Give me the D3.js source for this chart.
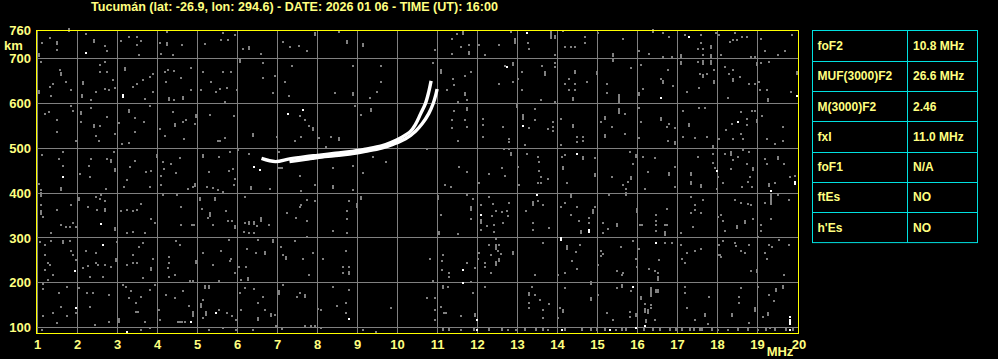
<!DOCTYPE html>
<html>
<head>
<meta charset="utf-8">
<script src="https://cdn.jsdelivr.net/npm/d3@7/dist/d3.min.js"></script>
<style>
body{margin:0;background:#000;}
svg{display:block;font-family:"Liberation Sans",Arial,sans-serif;font-weight:bold;}
</style>
</head>
<body>
<div id="chart"></div>
<script>
// ionogram title and axes
const title = "Tucumán (lat: -26.9, lon: 294.6) - DATE: 2026 01 06 - TIME (UT): 16:00";
const freqTicks = [1,2,3,4,5,6,7,8,9,10,11,12,13,14,15,16,17,18,19,20];
const heightTicks = [100,200,300,400,500,600,700];
const topHeight = 760;

// scaled parameters table
const paramNames = ["foF2","MUF(3000)F2","M(3000)F2","fxI","foF1","ftEs","h'Es"];
const paramValues = ["10.8 MHz","26.6 MHz","2.46","11.0 MHz","N/A","NO","NO"];

// F2 trace, [MHz, km]
const oTrace = [[6.6,477],[6.95,470],[7.3,476],[7.7,481],[8.0,484],[8.4,488],[8.8,492],[9.2,498],[9.6,505],[9.85,513],[10.1,524],[10.33,538],[10.45,553],[10.58,577],[10.7,600],[10.78,625],[10.84,650]];
const xTrace = [[7.3,470],[7.7,475],[8.0,479],[8.4,483],[8.8,487],[9.2,493],[9.6,500],[9.9,509],[10.2,521],[10.45,538],[10.62,555],[10.78,577],[10.89,599],[10.96,620],[10.99,632]];

// echoes / noise speckles, [MHz, km, streak length km]
const noiseGray = [
[1.78,760,10],[2.22,754],[1.12,735],[1.3,745],[1.49,732,8],[1.49,719],[2.4,737,8],[2.69,728],[2.73,717],[3.09,739],[3.28,748],[3.49,747],[3.48,730],[3.59,740],[3.53,707],[4.05,734],[4.23,760],[4.23,730,8],[4.38,707],[4.08,711],[4.61,730],[5.19,732],[5.59,741],[5.76,741],[5.63,756],[5.94,752],[6.13,722],[6.28,722,8],[6.59,711],[7.14,737],[7.3,726],[7.53,728],[7.73,717],[7.93,752,8],[8.53,760],[8.74,735,10],[9.13,728,8],[1.03,704,10],
[1.09,693],[1.55,674],[1.59,663,8],[1.72,648],[1.38,644],[1.3,637],[1.84,629],[1.03,623,8],[1.34,616],[2.13,643,8],[2.12,614,8],[2.34,607],[2.45,625],[2.55,685],[2.55,670],[2.68,693],[2.73,670],[2.88,651],[2.68,633],[2.78,629],[2.94,635],[3.19,674,8],[3.38,637],[3.49,644],[3.63,653],[3.8,659],[3.88,666],[3.68,610],[3.88,625],[4.19,670],[4.26,675],[4.41,672],[4.59,657],[4.84,679],[4.2,648],[4.3,608,8],[4.41,607],[4.63,610,8],[4.84,629],[5.13,670],[5.34,648],[5.63,670],[5.84,670],[5.47,625],[5.57,633],[5.74,634],[5.98,629],[5.09,629],[6.07,693,8],[6.63,691],[6.63,657],[6.94,661],[6.88,622],[7.19,648],[7.28,616],[7.35,684],[8.44,622],[8.88,684],[8.88,618,8],[9.3,612],[9.48,625],[9.59,684],[9.59,648],[5.69,603],
[1.28,581],[1.19,577],[1.48,562],[1.48,536],[1.83,593],[1.88,584],[2.09,577,8],[2.09,558],[2.34,590],[2.4,547,10],[2.55,549],[2.45,528],[2.53,517],[1.97,517],[2.73,569],[2.94,532],[3.03,556],[3.28,581,10],[3.44,567],[3.65,558],[3.12,510],[3.28,511],[3.44,536],[3.8,595],[4.05,543],[4.18,528],[4.38,581],[4.44,551,8],[4.63,558],[4.72,563],[4.97,569,8],[4.67,521],[4.93,555],[5.3,575],[5.5,517],[5.56,517],[5.69,522],[5.9,571],[6.38,528,8],[6.98,526],[7.55,571],[7.68,562],[7.78,549],[7.88,542,8],[7.59,525],[7.44,517],[8.03,522],[8.34,526],[8.53,519,8],[8.94,593],[9.09,575],[9.34,583,8],[8.22,502],
[1.12,484],[1.53,476],[1.63,491],[1.63,461],[2.05,443],[2.3,435],[2.28,461],[2.34,476],[2.74,476],[2.84,469,8],[2.94,450,8],[2.9,491],[3.3,458],[3.23,428],[3.44,472],[3.72,446],[3.84,450],[3.99,480,8],[4.13,469],[4.16,454],[4.34,465],[4.55,478],[4.45,444],[4.09,437],[5.13,480,10],[5.28,446],[5.53,481],[5.8,491],[5.78,449],[5.88,454],[5.94,431],[6.0,495],[6.3,487],[7.0,456],[7.05,456],[7.1,456],[7.03,491],[7.55,437],[7.88,476],[8.38,456],[8.88,461],[9.13,444],[9.38,480],[9.72,469],
[10.93,719],[11.35,711],[11.35,743],[11.48,754],[11.64,754,10],[11.58,726],[11.79,730],[11.79,711,8],[12.03,730],[12.18,707],[12.54,730],[12.83,760],[12.93,737,14],[13.25,734],[13.29,721],[13.83,752,20],[13.93,747,8],[13.93,707],[14.14,761],[14.18,726],[14.33,726],[14.43,726],[14.68,748],[14.68,734],[15.02,756],[15.39,707,8],[15.64,743],[16.04,717],[16.29,711],[16.39,760,8],[16.64,756],[16.64,704],[16.78,748],[16.87,704],[17.08,704,8],[17.18,752],[17.58,752],[17.58,734],[17.5,722],[17.64,722],[17.64,707],[17.83,724,8],[17.83,704,8],[17.96,756],[18.04,752],[18.08,707],[18.32,736],[18.43,756],[18.39,741],[18.48,741],[18.6,748],[18.73,748],[18.83,704],[18.93,704],[19.08,743],[19.18,717],[19.52,707],[19.68,717],[19.85,752],
[10.89,689],[11.08,668,12],[11.39,655],[11.42,640],[11.23,629],[11.68,660],[11.83,670],[11.68,618,8],[11.75,607],[11.52,603],[12.53,644],[12.68,683],[12.89,685,8],[12.89,648],[13.02,655],[13.1,670],[13.1,629],[13.6,683],[13.68,663,12],[13.58,607],[13.93,689],[13.93,680],[13.93,603],[14.18,644],[14.28,655],[14.43,668,10],[14.29,629],[14.43,629],[14.43,644],[14.39,607,10],[14.73,648],[14.98,666,8],[15.24,644],[15.24,622],[15.39,696,8],[15.53,608,22],[15.83,678],[16.03,618,10],[16.08,685],[16.14,633],[16.58,655],[16.64,645,8],[16.76,674],[16.89,638],[17.08,689,8],[17.23,625],[17.5,693],[17.64,689,12],[17.56,666],[17.64,659,8],[17.73,666],[17.83,689,12],[17.92,674],[17.92,645,10],[17.54,634],[18.18,680],[18.28,666],[18.39,674],[18.39,650,10],[18.27,612],[18.56,659],[18.79,644],[18.93,644],[18.98,685,8],[19.03,648],[19.06,629],[19.08,689],[19.25,629],[19.28,693],[19.27,605,10],[19.83,625],[19.98,666,10],
[11.42,584],[11.35,563],[11.35,545],[11.68,563],[11.75,584,10],[11.75,547],[11.5,517],[12.14,566],[12.14,551],[12.14,525],[12.64,547],[12.79,521],[12.79,513],[12.67,499],[12.99,592,12],[13.14,568,14],[13.28,545],[13.18,506],[13.43,588],[13.43,563],[13.75,543],[13.89,558],[13.89,547],[13.89,538],[14.08,566],[14.08,508],[14.39,547,8],[14.49,526],[14.49,513],[14.64,526],[14.64,517],[15.08,558],[15.18,566,8],[15.18,525,8],[15.35,548],[15.54,581,14],[15.68,577],[15.68,532],[16.03,590],[16.08,558],[16.03,523],[16.58,563,8],[16.73,548],[16.79,553],[16.94,545],[16.75,517],[16.94,510,8],[17.28,551,8],[17.14,584],[17.14,526],[17.43,523],[17.54,590],[17.68,590],[17.73,526],[18.03,521],[18.22,540],[18.35,553],[18.39,521],[18.58,580],[18.73,566],[18.73,551],[18.58,532],[18.64,521],[18.85,584],[18.93,584],[18.98,558,10],[19.1,571],[19.25,521],[19.43,510],[19.64,517],[19.64,548],
[10.73,499],[11.54,459],[11.75,446],[12.28,443],[12.6,455],[12.68,437],[12.78,499],[12.83,484,10],[13.02,459],[13.24,486],[13.52,480],[13.53,469],[13.53,450],[13.58,435],[13.77,431],[14.1,480],[14.14,454,8],[14.18,484],[14.64,476,10],[14.93,478],[14.93,439,8],[15.35,435],[15.8,491],[15.83,431,8],[15.88,465],[15.97,480,10],[16.14,481],[16.27,446],[16.43,478],[16.78,439,10],[16.93,459],[17.33,439,10],[17.5,480],[17.89,499,10],[17.89,488],[17.89,467],[17.93,455],[18.02,435],[18.18,488],[18.33,486,12],[18.39,474],[18.52,480],[18.33,454],[18.64,495],[18.79,491],[18.73,465],[18.88,450,10],[18.81,435],[19.18,476],[19.25,465],[19.52,476,10],[19.67,465],[19.81,435],[19.93,439],
[1.09,406],[1.09,393,12],[1.09,373],[1.09,354,12],[1.13,347],[1.59,407,8],[1.48,363],[1.84,373],[2.03,384,8],[2.26,369],[2.45,391],[2.55,387],[2.59,395],[2.68,382],[2.69,360,10],[2.49,363],[1.59,328],[1.7,324],[1.8,324],[1.88,332],[1.95,324],[1.34,311],[2.94,317,10],[2.7,410],[3.09,360],[3.24,363],[3.38,360],[3.49,363],[3.59,376],[3.84,341],[3.94,333],[3.24,311],[3.38,313],[3.69,311],[3.16,413],[3.8,413],[4.13,395],[4.48,395],[4.59,369],[4.59,328],[4.86,328],[4.92,328],[4.09,417],[4.76,410],[4.88,413],[4.94,415,8],[5.05,384,10],[5.11,365],[5.3,350,12],[5.26,345],[5.38,328],[5.44,384,8],[5.7,360],[5.76,338],[5.86,338],[5.94,321,10],[5.24,413],[5.38,412],[5.51,406],[5.63,402],[5.91,417],[6.19,391],[6.18,332],[6.3,330,10],[6.4,330,10],[6.48,326],[6.59,339,12],[6.78,328],[6.15,313],[6.3,311],[6.4,311],[6.34,410,8],[6.8,410],[7.23,356],[7.45,345],[7.55,369],[7.59,373],[7.73,385],[7.73,338],[7.93,382],[7.93,417],[7.59,404],[8.38,410,10],[8.38,316],[8.73,360],[8.73,341],[8.78,382],[8.73,311],[8.88,407],[8.98,369,12],[9.09,387,10],[7.73,302],
[1.05,291],[1.34,293],[1.63,287,10],[1.8,293],[1.18,284],[1.2,261],[1.26,244],[1.3,239],[1.18,228],[1.38,217],[1.26,207],[1.84,271],[1.88,261],[1.95,250],[2.2,271],[2.47,267],[2.13,232],[2.26,237],[2.45,244],[2.5,239],[2.68,239],[2.84,234],[2.3,213],[2.63,213],[2.97,247,10],[2.98,291],[3.23,239],[3.38,261],[3.38,243],[3.49,244],[3.53,280],[3.63,289],[3.88,253],[3.84,228,10],[3.63,210],[4.28,258],[4.28,244],[4.28,213],[4.26,232],[4.43,217],[4.45,293],[4.55,284],[4.8,204],[4.88,204],[4.95,243,10],[5.13,267],[5.38,239],[5.53,204],[5.59,271],[5.8,249],[5.84,253],[5.94,222],[5.78,296],[6.03,234],[6.09,207],[6.2,234],[6.23,276],[6.26,206,10],[6.45,267],[6.51,296],[6.69,264,10],[6.88,291,10],[7.09,280],[7.13,261],[7.2,253,10],[7.44,293],[7.63,253],[7.78,217],[7.88,267],[8.13,253],[8.7,271],[8.63,236],[8.78,236],[8.63,222],[8.78,219,10],
[1.13,198],[1.13,185],[1.53,178],[1.74,191],[1.59,145],[1.95,132],[1.38,132],[1.13,126],[1.48,110],[1.74,126],[2.03,187],[2.23,178],[2.38,178],[2.78,172],[2.3,145],[2.43,106],[2.78,113],[3.03,113,12],[3.13,195],[3.22,190],[3.34,182],[3.28,165],[3.59,169],[3.45,154],[3.45,135],[3.5,135],[3.8,184],[3.93,195],[3.68,113],[4.03,139],[4.2,172],[4.05,117],[4.43,165],[4.63,182],[4.78,148],[4.88,128,14],[4.5,113],[4.56,113],[4.62,113],[4.68,113],[5.18,187,10],[5.28,187,10],[5.13,161],[5.09,146,12],[5.22,128,12],[5.13,121],[5.53,139],[5.73,133],[5.86,126],[5.63,98],[5.95,117],[6.05,176],[6.18,187],[6.4,185],[6.63,169],[6.51,154],[6.09,139],[6.51,117,10],[6.69,139],[6.84,124,10],[6.93,128],[6.95,104],[7.03,176,12],[7.13,195],[7.48,169],[7.68,169,8],[7.55,178],[8.01,141],[8.09,139],[8.38,191],[8.49,148],[8.78,184],[8.7,154],[8.7,132],[9.84,144],
[1.03,420],[1.12,95],[3.59,95],[3.8,98],[5.28,95],[5.95,95],[6.38,95],[7.1,96],[7.68,104],[7.84,104],[7.93,104],[8.09,98],[9.13,95],[9.45,91],
[11.18,417],[11.33,413],[12.03,422],[13.03,417],[13.5,422],[13.58,422],[14.24,422],[15.64,417],[15.75,424],[16.18,410],[16.93,413],[17.33,421,8],[17.58,413,8],[17.98,410],[18.13,422],[18.6,413],[18.77,424],[18.85,413],[19.28,415,10],[19.43,422],
[11.02,387,12],[11.08,350],[11.03,310,8],[11.5,308],[11.75,395],[11.89,387],[11.83,363,12],[11.83,343],[12.08,373],[12.08,333,12],[12.08,318],[12.28,391],[12.39,375],[12.45,360],[12.37,348],[12.42,328],[12.23,326],[12.42,313],[12.6,358],[12.73,360],[12.75,348],[12.78,378],[12.64,333],[13.2,360],[13.39,373,12],[13.39,332],[13.39,317],[13.5,382],[13.64,373],[13.78,321],[14.08,369],[14.18,378],[14.33,391,12],[14.33,350],[14.5,369],[14.54,338],[14.58,311,10],[14.79,345],[14.79,333],[14.89,356,12],[14.93,369],[15.14,333],[15.14,311],[15.25,319],[15.28,395],[15.49,326,10],[15.72,395,10],[15.72,410],[15.98,358,12],[16.05,328],[16.1,328],[16.47,350],[16.47,338],[16.47,328],[16.47,315],[16.68,308,12],[16.68,328],[16.74,328],[16.73,365],[17.08,311],[17.33,391],[17.43,373],[17.43,363],[17.33,356],[17.58,356],[17.39,324],[17.64,384],[18.08,350],[18.02,347],[18.13,338],[18.18,315],[18.43,385],[18.58,378],[18.68,333,10],[18.48,322,10],[18.75,376],[18.83,373],[18.89,343],[19.08,328],[19.08,315],[19.18,378],[19.33,384,24],[19.33,343],[19.52,395],[19.78,385],
[11.14,261],[11.1,248],[11.1,228],[11.28,221],[11.28,213],[10.81,252],[10.89,204],[11.75,244],[11.83,202],[11.93,232],[12.03,267],[12.0,252],[12.18,244],[12.18,234],[12.28,284],[12.33,261],[12.33,221],[12.45,276,14],[12.45,239,12],[12.52,271],[12.53,284],[12.58,264],[12.53,247,10],[12.45,298],[12.89,264,10],[13.43,217],[13.64,289],[14.23,276,12],[14.37,249],[14.46,269],[14.56,284],[14.18,222],[14.5,230],[14.0,217],[15.08,271],[15.08,259],[15.14,264],[15.02,239],[15.49,227],[15.6,217],[15.64,222],[15.58,280],[15.89,293],[15.95,252],[16.03,274],[15.98,234],[16.29,230],[16.43,227],[16.5,222],[16.53,250],[16.5,206,12],[16.68,289],[16.87,289],[17.1,252],[17.18,244],[17.08,284],[17.23,267],[17.43,271],[17.58,274],[18.0,261],[18.05,261],[18.08,258],[18.13,293],[18.04,284],[18.43,289],[18.45,282],[18.58,271],[18.68,267],[18.79,284],[18.83,227],[18.98,224,10],[19.02,301],[19.23,252],[19.18,267],[19.28,284],[19.37,280],[19.53,296],[19.78,284],[19.67,217],
[10.73,165],[10.93,165],[10.93,139],[10.93,117],[11.08,145],[11.14,187,10],[11.25,191],[11.15,132],[11.2,132],[11.58,126],[11.89,178],[11.93,126,10],[12.18,191],[13.35,191],[13.28,172,10],[13.43,172],[13.28,154],[13.28,143],[13.56,161],[13.64,139],[13.64,121],[13.78,152],[14.06,143],[14.14,133,10],[14.02,121],[14.18,187],[14.83,198,8],[14.83,165],[14.83,161],[15.02,172],[15.23,133],[15.39,117],[15.49,187],[15.6,190,10],[15.8,135],[15.8,123],[15.85,182],[15.95,124,10],[16.08,169],[16.08,163],[16.18,152],[16.18,135,12],[16.25,132,12],[16.33,178,22],[16.33,150],[16.33,143],[16.46,180,8],[16.5,180,8],[16.43,117],[16.22,111,10],[17.18,191],[17.18,178],[17.24,143],[17.43,117],[17.68,124,10],[17.78,169],[17.77,108],[18.35,124,10],[18.53,169],[18.53,155],[18.58,187],[18.93,138,12],[18.79,110],[19.02,191],[19.13,124],[19.27,128,10],[19.28,172],[19.41,158],[19.47,180,10],[19.64,188,10],[19.3,98],
[11.14,95,8],[11.28,95,8],[11.58,94],[11.9,95,8],[12.28,95,8],[12.6,95,8],[12.75,95],[12.95,94],[13.18,95,8],[13.45,95,8],[13.64,95,8],[13.77,94],[14.18,95,8],[14.6,95,8],[14.83,95,8],[14.98,95,8],[15.18,94,8],[15.45,95],[15.6,94,8],[15.72,95,8],[16.15,95,8],[16.38,95,8],[16.55,95,8],[16.8,95,8],[16.95,95,8],[17.1,95,10],[17.3,95,8],[17.4,95,8],[17.55,95,10],[17.62,95,10],[17.85,95,8],[18.0,94],[18.25,95],[18.5,95,8],[18.75,95,8],[19.0,95],[19.2,95,8],[19.45,95,8],[19.72,95,8],[19.9,95,8]
];
const noiseWhite = [
[2.2,713],[3.13,614,8],[7.26,577],[7.63,586],[6.42,457],[6.57,451],[1.63,435],[12.73,681],[13.23,757],[17.28,748],[16.58,612],[19.98,616],[13.14,549],[18.52,558],[14.49,486],[17.99,450],
[2.59,330],[2.63,284],[1.93,227],[1.96,144],[4.84,113],[5.45,132],[8.78,119],[3.23,91],
[19.93,419,10],[12.08,350],[13.48,395],[14.78,313,10],[14.08,295,8],[16.47,289],[11.64,228],[11.64,200],[11.98,117],[15.89,191],[16.18,104],[19.81,123],[19.81,110,14],[19.33,405],[11.98,95],[14.1,94],[15.3,94],[15.95,98],[19.82,94]
];

const width = 998, height = 359;
const frame = {left: 36, top: 30, right: 798, bottom: 333};

const svg = d3.select("#chart").append("svg")
  .attr("width", width)
  .attr("height", height)
  .style("background", "#000");

const x = d3.scaleLinear().domain([1, 20]).range([37.5, 797.5]);
const y = d3.scaleLinear().domain([100, 700]).range([327.5, 58.5]);

const textColor = "#ffff80";

// title
svg.append("text")
  .attr("x", 91).attr("y", 11)
  .attr("fill", textColor)
  .style("font-size", "12px")
  .attr("textLength", 407)
  .attr("lengthAdjust", "spacingAndGlyphs")
  .text(title);

// grid
const grid = svg.append("g").attr("stroke", "#808080").attr("stroke-width", 1).attr("shape-rendering", "crispEdges");
grid.selectAll("line.v").data(freqTicks.filter(d => d < 20)).enter().append("line")
  .attr("x1", d => x(d)).attr("x2", d => x(d))
  .attr("y1", frame.top).attr("y2", frame.bottom);
grid.selectAll("line.h").data(heightTicks).enter().append("line")
  .attr("x1", frame.left).attr("x2", frame.right)
  .attr("y1", d => y(d)).attr("y2", d => y(d));

// noise speckles
function speck(g, data, color) {
  g.selectAll("rect").data(data).enter().append("rect")
    .attr("x", d => Math.round(x(d[0])) - 1)
    .attr("y", d => Math.round(y(d[1] + (d[2] || 0) / 2)) - 1)
    .attr("width", 2)
    .attr("height", d => Math.max(2, Math.round(y(d[1] - (d[2] || 0) / 2) - y(d[1] + (d[2] || 0) / 2))))
    .attr("fill", color)
    .attr("shape-rendering", "crispEdges");
}
speck(svg.append("g"), noiseGray, "#808080");
speck(svg.append("g"), noiseWhite, "#ffffff");

// F2 traces (ordinary and extraordinary)
const line = d3.line().x(d => x(d[0])).y(d => y(d[1])).curve(d3.curveCatmullRom);
svg.append("g").selectAll("path").data([oTrace, xTrace]).enter().append("path")
  .attr("d", d => line(d))
  .attr("fill", "none")
  .attr("stroke", "#fff")
  .attr("stroke-width", 3.4);

// frame
svg.append("rect")
  .attr("x", frame.left + 0.5).attr("y", frame.top + 0.5)
  .attr("width", frame.right - frame.left).attr("height", frame.bottom - frame.top)
  .attr("fill", "none").attr("stroke", "#ffff00").attr("stroke-width", 1);

// y labels
const yl = svg.append("g").attr("fill", textColor).style("font-size", "13px").attr("text-anchor", "end");
yl.selectAll("text").data(heightTicks).enter().append("text")
  .attr("x", 31).attr("y", d => y(d)).attr("dy", "0.36em").text(d => d);
yl.append("text").attr("x", 31).attr("y", 35).text(topHeight);
yl.append("text").attr("x", 13.5).attr("y", 50).attr("text-anchor", "middle").text("km");

// x labels
const xl = svg.append("g").attr("fill", textColor).style("font-size", "13px").attr("text-anchor", "middle");
xl.selectAll("text").data(freqTicks).enter().append("text")
  .attr("x", d => d == 20 ? x(d) + 1.5 : x(d)).attr("y", 349).text(d => d);
xl.append("text").attr("x", 780).attr("y", 356).text("MHz");

// parameters table
const tab = {left: 812.5, mid: 907.5, right: 977.5, top: 30.5, row: 30.3};
const tg = svg.append("g");
tg.append("rect")
  .attr("x", tab.left).attr("y", tab.top)
  .attr("width", tab.right - tab.left).attr("height", tab.row * paramNames.length)
  .attr("fill", "none").attr("stroke", "#00e0e0");
tg.append("line").attr("x1", tab.mid).attr("x2", tab.mid)
  .attr("y1", tab.top).attr("y2", tab.top + tab.row * paramNames.length).attr("stroke", "#00e0e0");
tg.selectAll("line.r").data(paramNames.slice(1)).enter().append("line")
  .attr("x1", tab.left).attr("x2", tab.right)
  .attr("y1", (d, i) => Math.round(tab.top + tab.row * (i + 1)) + 0.5)
  .attr("y2", (d, i) => Math.round(tab.top + tab.row * (i + 1)) + 0.5)
  .attr("stroke", "#00e0e0");
tg.selectAll("text.n").data(paramNames).enter().append("text")
  .attr("x", tab.left + 5).attr("y", (d, i) => tab.top + tab.row * (i + 0.5))
  .attr("dy", "0.36em").attr("fill", textColor).style("font-size", "12px").text(d => d);
tg.selectAll("text.v").data(paramValues).enter().append("text")
  .attr("x", tab.mid + 5.5).attr("y", (d, i) => tab.top + tab.row * (i + 0.5))
  .attr("dy", "0.36em").attr("fill", textColor).style("font-size", "12px").text(d => d);
</script>
</body>
</html>
